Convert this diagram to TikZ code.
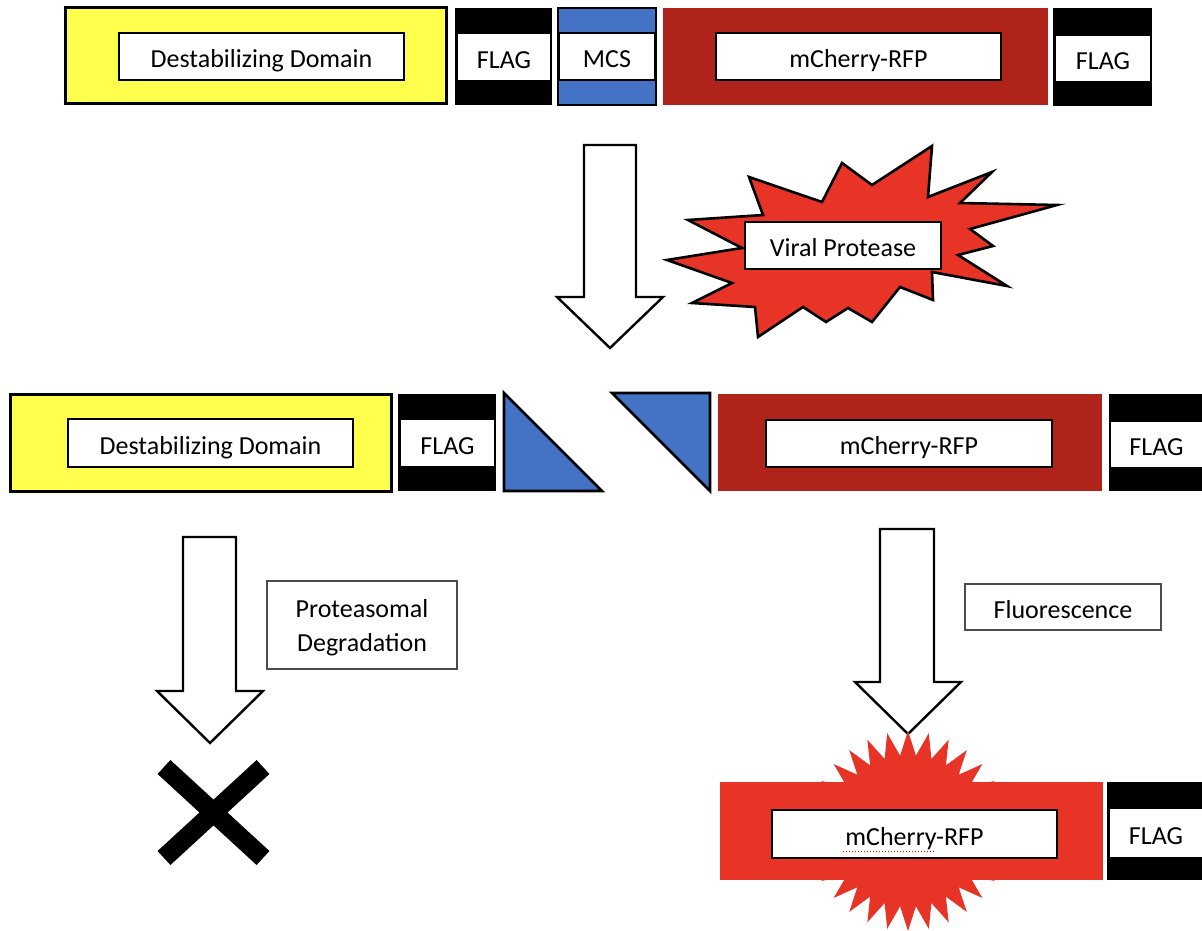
\documentclass[tikz,border=0pt]{standalone}
\usepackage{fontspec}
\setmainfont{Carlito}
\usetikzlibrary{shapes.geometric}
\definecolor{yel}{RGB}{255,255,77}
\definecolor{dred}{RGB}{176,35,26}
\definecolor{bred}{RGB}{232,52,38}
\definecolor{blu}{RGB}{68,114,196}
\newcommand\bx[7]{%
  \node[#2, minimum width={(#5-#3)*0.5pt}, minimum height={(#6-#4)*0.5pt}]
    (#1) at ({(#3+#5)/2},{(#4+#6)/2}) {#7};}
\tikzset{
  base/.style={inner sep=0pt, outer sep=0pt, align=center},
  fixt/.style={text height=11.2pt, text depth=0pt},
  yelbox/.style={base, fill=yel, draw=black, line width=1.5pt},
  drbox/.style={base, fill=dred},
  brbox/.style={base, fill=bred},
  flagbg/.style={base, fill=black},
  flagw/.style={base, fixt, fill=white},
  mcsbg/.style={base, fill=blu, draw=black, line width=1.1pt},
  mcsw/.style={base, fixt, fill=white, draw=black, line width=0.9pt},
  lbl/.style={base, fixt, fill=white, draw=black, line width=0.7pt},
  tbox/.style={base, text depth=0pt, fill=white, draw=black!70, line width=0.6pt},
  tbox1/.style={tbox, fixt},
  blockarrow/.style={draw=black, fill=white, line width=1.2pt, line join=miter},
  tri/.style={draw=black, fill=blu, line width=1.4pt, line join=miter},
  burstpoly/.style={draw=black, fill=bred, line width=1.3pt, line join=miter},
  xmark/.style={line width=9.5pt, line cap=butt},
}
\begin{document}
\begin{tikzpicture}[x=0.5pt, y=-0.5pt, font=\fontsize{13}{17}\selectfont]
\useasboundingbox (0,0) rectangle (1202,930);

% ---------- top row ----------
\bx{dd1}{yelbox}{65}{8}{446}{104}{}
\bx{dd1l}{lbl}{119}{33}{404}{80}{Destabilizing Domain}
\bx{f1}{flagbg}{455}{8}{552}{105}{}
\bx{f1l}{flagw}{458}{34}{550}{80}{FLAG}
\bx{mcs}{mcsbg}{558}{8}{656}{105}{}
\bx{mcsl}{mcsw}{559}{33}{655}{80}{MCS}
\bx{mc1}{drbox}{663}{8}{1048}{105}{}
\bx{mc1l}{lbl}{716}{33}{1001}{80}{mCherry-RFP}
\bx{f2}{flagbg}{1053}{8}{1152}{106}{}
\bx{f2l}{flagw}{1056}{36}{1150}{81}{FLAG}

% down arrow 1
\draw[blockarrow] (584,145) -- (636,145) -- (636,297) -- (663,297) -- (610,348) -- (557,297) -- (584,297) -- cycle;

% viral protease burst
\draw[burstpoly] (749,177) -- (822,202) -- (842,163) -- (872,185) -- (932,146) -- (928,197)
  -- (992,172) -- (960,203) -- (1057,205) -- (970,229) -- (993,246) -- (958,255)
  -- (1007,286) -- (932,272) -- (933,300) -- (900,287) -- (872,322) -- (848,308)
  -- (826,322) -- (803,307) -- (758,337) -- (755,307) -- (692,303) -- (732,283)
  -- (667,260) -- (742,248) -- (688,220) -- (763,215) -- cycle;
\bx{vp}{lbl}{745}{222}{941}{269}{Viral Protease}

% ---------- middle row ----------
\bx{dd2}{yelbox}{10}{394}{391}{491}{}
\bx{dd2l}{lbl}{68}{419}{353}{467}{Destabilizing Domain}
\bx{f3}{flagbg}{398}{394}{496}{491}{}
\bx{f3l}{flagw}{401}{420}{494}{466}{FLAG}
\draw[tri] (504,393) -- (504,491) -- (602,491) -- cycle;
\draw[tri] (612,393) -- (710,393) -- (710,491) -- cycle;
\bx{mc2}{drbox}{718}{394}{1102}{491}{}
\bx{mc2l}{lbl}{766}{420}{1052}{467}{mCherry-RFP}
\bx{f4}{flagbg}{1109}{394}{1202}{491}{}
\bx{f4l}{flagw}{1111}{422}{1202}{467}{FLAG}

% ---------- lower arrows ----------
\draw[blockarrow] (183,537) -- (236,537) -- (236,691) -- (263,691) -- (210,743) -- (157,691) -- (183,691) -- cycle;
\draw[blockarrow] (880,529) -- (934,529) -- (934,682) -- (961,682) -- (908,734) -- (855,682) -- (880,682) -- cycle;
\bx{pd}{tbox}{267}{581}{457}{669}{Proteasomal\\Degradation}
\bx{fl}{tbox1}{965}{584}{1161}{630}{Fluorescence}

% X mark
\draw[xmark] (164,767) -- (263,858);
\draw[xmark] (263,767) -- (164,858);

% ---------- bottom right ----------
\node[star, star points=30, star point ratio=1.32, minimum size=100pt, inner sep=0pt, fill=bred] (burst) at (908,831) {};
\bx{mc3}{brbox}{720}{782}{1103}{880}{}
\bx{mc3l}{lbl}{772}{810}{1057}{858}{mCherry-RFP}
\draw[red, densely dotted, line width=0.5pt] (843,851) -- (935,851);
\bx{f5}{flagbg}{1107}{782}{1202}{880}{}
\bx{f5l}{flagw}{1110}{809}{1202}{857}{FLAG}
\end{tikzpicture}
\end{document}
